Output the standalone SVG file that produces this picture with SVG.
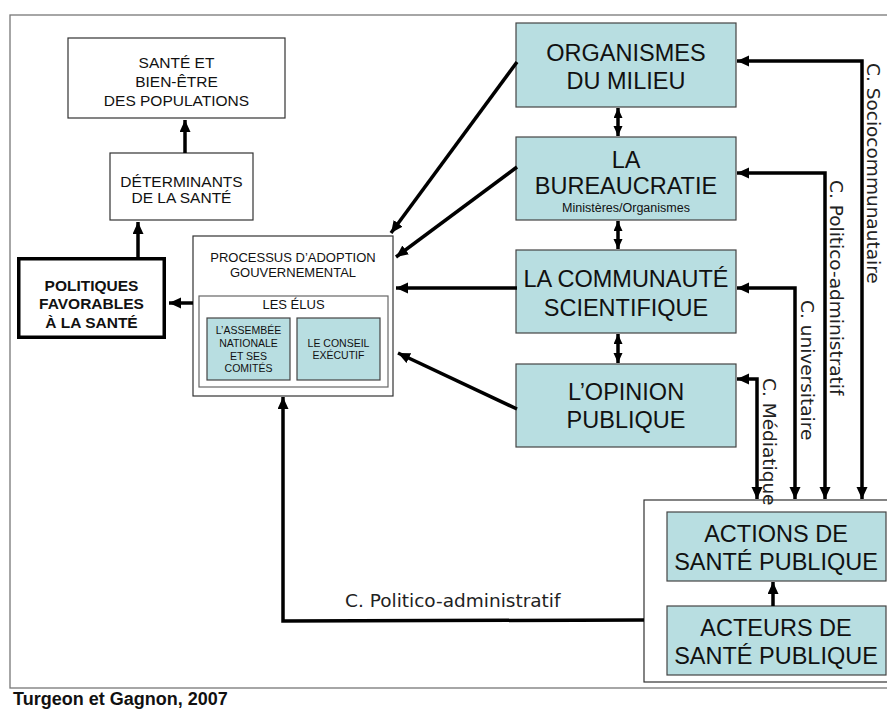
<svg xmlns="http://www.w3.org/2000/svg" width="887" height="709" viewBox="0 0 887 709">
<defs>
<style>
.t{font-family:"Liberation Sans",Arial,sans-serif;fill:#111;text-anchor:middle}
.c{font-family:"DejaVu Sans",Verdana,sans-serif;font-size:18.5px;fill:#222}
.w{fill:#fff;stroke:#333;stroke-width:1.2}
.g{fill:none;stroke:#666;stroke-width:1.2}
.teal{fill:#b8dee1;stroke:#444;stroke-width:1.2}
.big{font-size:23.5px}
.ln{fill:none;stroke:#000;stroke-width:3.5;stroke-linejoin:miter}
</style>
<marker id="ah" markerUnits="userSpaceOnUse" markerWidth="13" markerHeight="12" refX="12" refY="5.5" orient="auto-start-reverse" viewBox="0 0 13 12">
<path d="M0,0 L12,5.5 L0,11 z" fill="#000"/>
</marker>
<marker id="as" markerUnits="userSpaceOnUse" markerWidth="11" markerHeight="10" refX="10" refY="4.5" orient="auto-start-reverse" viewBox="0 0 11 10">
<path d="M0,0 L10,4.5 L0,9 z" fill="#000"/>
</marker>
</defs>
<rect width="887" height="709" fill="#fff"/>
<rect x="10" y="15" width="890" height="673" fill="none" stroke="#777" stroke-width="1.3"/>

<g id="sante">
<rect class="w" x="68" y="38" width="217" height="80"/>
<text class="t" font-size="15.5" x="176.5" y="68">SANTÉ ET</text>
<text class="t" font-size="15.5" x="176.5" y="87">BIEN-ÊTRE</text>
<text class="t" font-size="15.5" x="176.5" y="106">DES POPULATIONS</text>
</g>
<g id="determinants">
<rect class="w" x="110" y="153" width="143" height="67"/>
<text class="t" font-size="15.5" x="181.5" y="187">DÉTERMINANTS</text>
<text class="t" font-size="15.5" x="181.5" y="203">DE LA SANTÉ</text>
</g>
<g id="politiques">
<rect x="18.75" y="258.75" width="145.5" height="78.5" fill="#fff" stroke="#000" stroke-width="3.5"/>
<text class="t" font-size="15.5" font-weight="bold" x="91.5" y="291">POLITIQUES</text>
<text class="t" font-size="15.5" font-weight="bold" x="91.5" y="309">FAVORABLES</text>
<text class="t" font-size="15.5" font-weight="bold" x="91.5" y="328">À LA SANTÉ</text>
</g>
<g id="processus">
<rect class="w" x="193" y="236" width="200" height="160" stroke="#666"/>
<text class="t" font-size="13" x="293" y="262">PROCESSUS D’ADOPTION</text>
<text class="t" font-size="13" x="293" y="277">GOUVERNEMENTAL</text>
<g id="elus">
<rect class="g" x="199" y="296" width="189" height="91"/>
<text class="t" font-size="13" x="293.5" y="309">LES ÉLUS</text>
</g>
<g id="assemblee">
<rect class="teal" x="207" y="318" width="83" height="62"/>
<text class="t" font-size="10.5" x="248.5" y="334">L’ASSEMBÉE</text>
<text class="t" font-size="10.5" x="248.5" y="347">NATIONALE</text>
<text class="t" font-size="10.5" x="248.5" y="360">ET SES</text>
<text class="t" font-size="10.5" x="248.5" y="372">COMITÉS</text>
</g>
<g id="conseil">
<rect class="teal" x="297" y="318" width="83" height="62"/>
<text class="t" font-size="10.5" x="338.5" y="347">LE CONSEIL</text>
<text class="t" font-size="10.5" x="338.5" y="359">EXÉCUTIF</text>
</g>
</g>

<g id="organismes">
<rect class="teal" x="516" y="23" width="220" height="84"/>
<text class="t big" x="626" y="61">ORGANISMES</text>
<text class="t big" x="626" y="89">DU MILIEU</text>
</g>
<g id="bureaucratie">
<rect class="teal" x="516" y="137" width="220" height="83"/>
<text class="t big" x="626" y="168">LA</text>
<text class="t big" x="626" y="194">BUREAUCRATIE</text>
<text class="t" font-size="12.5" x="626" y="212">Ministères/Organismes</text>
</g>
<g id="communaute">
<rect class="teal" x="516" y="250" width="220" height="83"/>
<text class="t big" x="626" y="287">LA COMMUNAUTÉ</text>
<text class="t big" x="626" y="316">SCIENTIFIQUE</text>
</g>
<g id="opinion">
<rect class="teal" x="516" y="364" width="220" height="83"/>
<text class="t big" x="626" y="400">L’OPINION</text>
<text class="t big" x="626" y="428">PUBLIQUE</text>
</g>

<g id="sante-publique">
<rect class="w" x="644" y="500" width="260" height="182"/>
<g id="actions">
<rect class="teal" x="667" y="512" width="219" height="69"/>
<text class="t big" x="776" y="541.5">ACTIONS DE</text>
<text class="t big" x="776" y="570">SANTÉ PUBLIQUE</text>
</g>
<g id="acteurs">
<rect class="teal" x="667" y="606" width="219" height="69"/>
<text class="t big" x="776" y="635.5">ACTEURS DE</text>
<text class="t big" x="776" y="664">SANTÉ PUBLIQUE</text>
</g>
</g>

<g id="connectors">
<path class="ln" d="M185,153 L185,120" marker-end="url(#ah)"/>
<path class="ln" d="M138,257 L138,222" marker-end="url(#ah)"/>
<path class="ln" d="M193,303 L169,303" marker-end="url(#ah)"/>
<path class="ln" d="M517,62 L391,233" marker-end="url(#ah)"/>
<path class="ln" d="M517,167 L396,257" marker-end="url(#ah)"/>
<path class="ln" d="M517,288 L396,288" marker-end="url(#ah)"/>
<path class="ln" d="M517,409 L398,353" marker-end="url(#ah)"/>
<path class="ln" d="M618,108 L618,136" marker-start="url(#as)" marker-end="url(#as)"/>
<path class="ln" d="M618,221 L618,249" marker-start="url(#as)" marker-end="url(#as)"/>
<path class="ln" d="M618,334 L618,363" marker-start="url(#as)" marker-end="url(#as)"/>
<path class="ln" d="M737,61 L862,61 L862,499" marker-start="url(#ah)" marker-end="url(#ah)"/>
<path class="ln" d="M737,173 L825,173 L825,499" marker-start="url(#ah)" marker-end="url(#ah)"/>
<path class="ln" d="M737,288 L795,288 L795,499" marker-start="url(#ah)" marker-end="url(#ah)"/>
<path class="ln" d="M737,379 L757,379 L757,499" marker-start="url(#ah)" marker-end="url(#ah)"/>
<path class="ln" d="M773,606 L773,582" marker-end="url(#ah)"/>
<path class="ln" d="M644,620 L283,621 L283,397" marker-end="url(#ah)"/>
<text class="c" transform="translate(867,63) rotate(90)">C. Sociocommunautaire</text>
<text class="c" transform="translate(830,180) rotate(90)">C. Politico-administratif</text>
<text class="c" transform="translate(801,300) rotate(90)">C. universitaire</text>
<text class="c" transform="translate(763,378) rotate(90)">C. Médiatique</text>
<text class="c" x="345" y="607">C. Politico-administratif</text>
</g>

<text x="13" y="705" font-family="'Liberation Sans',Arial,sans-serif" font-size="18" font-weight="bold" fill="#111">Turgeon et Gagnon, 2007</text>
</svg>
